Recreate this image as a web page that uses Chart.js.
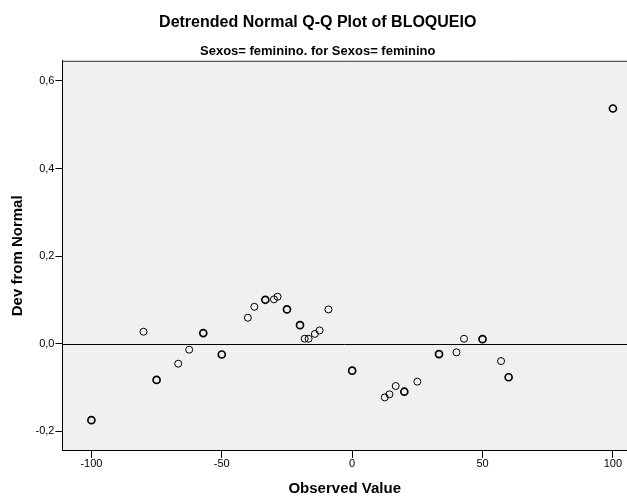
<!DOCTYPE html>
<html>
<head>
<meta charset="utf-8">
<script src="https://cdn.jsdelivr.net/npm/chart.js@4.4.1/dist/chart.umd.min.js"></script>
<style>
  html, body { margin: 0; padding: 0; background: #fff; }
  #wrap { width: 627px; height: 496px; }
</style>
</head>
<body>
<div id="wrap"><canvas id="myChart"></canvas></div>
<script>
const observed = [-100, -80, -75, -66.7, -62.5, -57.1, -50, -40, -37.5, -33.3, -30, -28.6,
    -25, -20, -18.2, -16.7, -14.3, -12.5, -9.1, 0, 12.5, 14.3, 16.7, 20, 25,
    33.3, 40, 42.9, 50, 57.1, 60, 100];
const devFromNormal = [-0.175, 0.027, -0.083, -0.046, -0.014, 0.024, -0.025, 0.059, 0.084, 0.100, 0.101, 0.107,
    0.078, 0.042, 0.011, 0.011, 0.022, 0.030, 0.078, -0.062, -0.123, -0.116, -0.097, -0.110, -0.087,
    -0.024, -0.020, 0.011, 0.010, -0.040, -0.077, 0.537];
// cases sharing the same value (drawn heavier)
const repeats = [2, 1, 2, 1, 1, 2, 2, 1, 1, 2, 1, 1,
    2, 2, 1, 1, 1, 1, 1, 2, 1, 1, 1, 2, 1,
    2, 1, 1, 2, 1, 2, 2];
const xTicks = [-100, -50, 0, 50, 100];
const yTicks = [-0.2, 0, 0.2, 0.4, 0.6];

const plotBg = {
    id: 'plotBg',
    beforeDraw(chart) {
        const { ctx, chartArea: a } = chart;
        ctx.save();
        ctx.fillStyle = '#f0f0f0';
        ctx.fillRect(a.left, a.top, a.right - a.left, a.bottom - a.top);
        ctx.strokeStyle = '#333';
        ctx.lineWidth = 1;
        ctx.beginPath();
        ctx.moveTo(a.left, a.top + 0.5);
        ctx.lineTo(a.right, a.top + 0.5);
        ctx.stroke();
        ctx.restore();
    },
    beforeDatasetsDraw(chart) {
        const { ctx, chartArea: a, scales } = chart;
        const y0 = Math.round(scales.y.getPixelForValue(0)) + 0.5;
        ctx.save();
        ctx.strokeStyle = '#000';
        ctx.lineWidth = 1;
        ctx.beginPath();
        ctx.moveTo(a.left, y0);
        ctx.lineTo(a.right, y0);
        ctx.stroke();
        ctx.restore();
    }
};

const ctx = document.getElementById('myChart').getContext('2d');
const myChart = new Chart(ctx, {
    type: 'scatter',
    data: {
        datasets: [{
            data: observed.map((x, i) => ({ x: x, y: devFromNormal[i] })),
            backgroundColor: 'rgba(0,0,0,0)',
            borderColor: '#000',
            borderWidth: c => repeats[c.dataIndex] > 1 ? 1.7 : 1,
            pointRadius: 3.5,
            pointHoverRadius: 3.5
        }]
    },
    options: {
        responsive: true,
        maintainAspectRatio: false,
        animation: false,
        layout: { autoPadding: false, padding: { left: 8.5, right: 0, top: 0, bottom: 0 } },
        plugins: {
            legend: { display: false },
            tooltip: { enabled: false },
            title: {
                display: true,
                text: 'Detrended Normal Q-Q Plot of BLOQUEIO',
                color: '#000',
                font: { family: 'Liberation Sans', size: 16, weight: 'bold' },
                padding: { top: 13, bottom: 11 }
            },
            subtitle: {
                display: true,
                text: 'Sexos= feminino. for Sexos= feminino',
                color: '#000',
                font: { family: 'Liberation Sans', size: 13, weight: 'bold' },
                padding: { top: 0, bottom: 2 }
            }
        },
        scales: {
            x: {
                type: 'linear',
                min: -111.1,
                max: 105.4,
                afterBuildTicks: s => { s.ticks = xTicks.map(v => ({ value: v })); },
                afterFit: s => { s.paddingLeft = 0; s.paddingRight = 0; },
                ticks: {
                    color: '#000',
                    font: { family: 'Liberation Sans', size: 11 },
                    padding: 0,
                    maxRotation: 0
                },
                grid: { drawOnChartArea: false, tickLength: 7, color: '#000' },
                border: { display: true, color: '#000', width: 1 },
                title: {
                    display: true,
                    text: 'Observed Value',
                    color: '#000',
                    font: { family: 'Liberation Sans', size: 15, weight: 'bold', lineHeight: 1 },
                    padding: { top: 10, bottom: 0 }
                }
            },
            y: {
                type: 'linear',
                min: -0.245,
                max: 0.646,
                afterBuildTicks: s => { s.ticks = yTicks.map(v => ({ value: v })); },
                ticks: {
                    color: '#000',
                    font: { family: 'Liberation Sans', size: 11 },
                    padding: 1,
                    callback: v => v.toFixed(1).replace('.', ',')
                },
                grid: { drawOnChartArea: false, tickLength: 7, color: '#000' },
                border: { display: true, color: '#000', width: 1 },
                title: {
                    display: true,
                    text: 'Dev from Normal',
                    color: '#000',
                    font: { family: 'Liberation Sans', size: 15, weight: 'bold' },
                    padding: { top: 0, bottom: 8 }
                }
            }
        }
    },
    plugins: [plotBg]
});
</script>
</body>
</html>
